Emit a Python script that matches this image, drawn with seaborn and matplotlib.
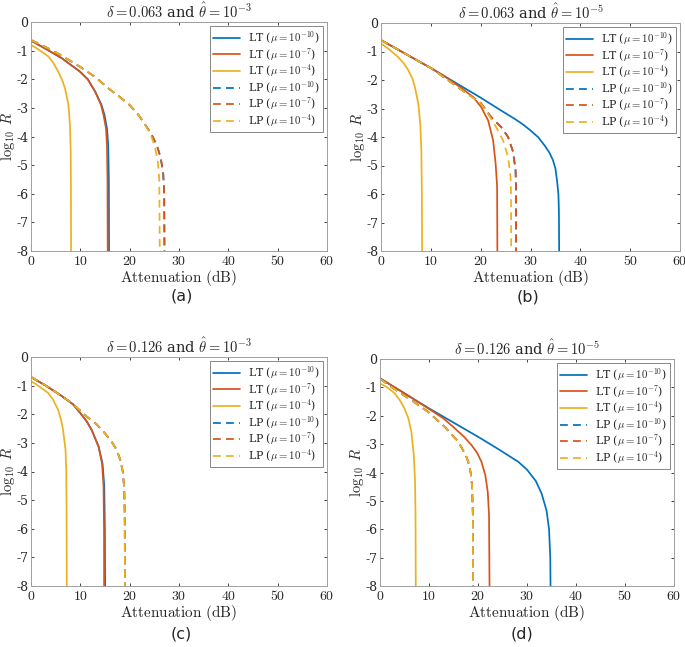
import numpy as np
import matplotlib
matplotlib.use("Agg")
import matplotlib.pyplot as plt
import seaborn as sns

# ---------------- data ----------------
# Panel (a): delta=0.063, theta=1e-3
a_lt10_x = [0, 3, 6.2, 9.9, 11.5, 13, 14.3, 14.9, 15.4, 15.65, 15.78, 15.82]
a_lt10_y = [-0.65, -0.94, -1.26, -1.73, -2.0, -2.43, -2.9, -3.25, -3.72, -4.3, -5.5, -8.0]
a_lt7_x = [0, 3, 6.2, 9.9, 11.5, 13, 14.2, 14.7, 15.2, 15.4, 15.5, 15.55]
a_lt7_y = [-0.65, -0.94, -1.26, -1.73, -2.0, -2.43, -2.9, -3.25, -3.72, -4.3, -5.5, -8.0]
a_lt4_x = [0, 1, 2, 3.5, 4.5, 5.5, 6.3, 6.9, 7.6, 7.9, 8.05, 8.1, 8.12]
a_lt4_y = [-0.8, -0.9, -1.02, -1.2, -1.42, -1.73, -2.02, -2.32, -2.9, -3.6, -4.5, -6.0, -8.0]
a_lp10_x = [0, 3, 6.2, 9.9, 13, 15.7, 18, 20, 21.8, 23.2, 24.5, 25.5, 26.3, 26.8, 27.0, 27.05]
a_lp10_y = [-0.63, -0.88, -1.17, -1.56, -1.92, -2.32, -2.62, -2.9, -3.25, -3.6, -3.95, -4.3, -4.75, -5.3, -6.0, -8.0]
a_lp7_x = a_lp10_x
a_lp7_y = a_lp10_y
a_lp4_x = [0, 3, 6.2, 9.9, 13, 15.7, 18, 20, 21.8, 23.2, 24.3, 25.1, 25.7, 26.0, 26.1]
a_lp4_y = [-0.63, -0.88, -1.17, -1.56, -1.92, -2.32, -2.62, -2.9, -3.25, -3.6, -3.95, -4.35, -4.85, -5.5, -8.0]

# Panel (b): delta=0.063, theta=1e-5
b_lt10_x = [0, 5, 10, 15, 20, 24, 26.8, 28.5, 30, 31.5, 32.8, 33.8, 34.5, 35.0, 35.3, 35.6, 35.7, 35.75]
b_lt10_y = [-0.6, -1.09, -1.58, -2.1, -2.62, -3.06, -3.36, -3.56, -3.77, -4.0, -4.29, -4.55, -4.81, -5.1, -5.5, -6.0, -6.6, -8.0]
b_lt7_x = [0, 5, 10, 13, 16.3, 18.5, 20.1, 21.5, 22.5, 23.0, 23.3, 23.35]
b_lt7_y = [-0.6, -1.09, -1.58, -1.9, -2.3, -2.6, -2.95, -3.42, -4.12, -4.93, -5.74, -8.0]
b_lt4_x = [0, 1, 2, 3.4, 4.5, 5.5, 6.3, 6.8, 7.5, 7.9, 8.1, 8.2, 8.25]
b_lt4_y = [-0.72, -0.84, -0.98, -1.19, -1.4, -1.66, -1.95, -2.25, -2.84, -3.6, -4.5, -6.0, -8.0]
b_lp10_x = [0, 5, 10, 13, 16.3, 19.9, 22.1, 24.1, 25.5, 26.5, 27.0, 27.1, 27.12]
b_lp10_y = [-0.6, -1.09, -1.58, -1.95, -2.36, -2.78, -3.3, -3.65, -4.0, -4.52, -5.16, -5.86, -8.0]
b_lp7_x = b_lp10_x
b_lp7_y = b_lp10_y
b_lp4_x = [0, 5, 10, 13, 16.3, 19.9, 21.5, 23.1, 24.5, 25.5, 26.0, 26.1, 26.12]
b_lp4_y = [-0.6, -1.09, -1.58, -1.95, -2.36, -2.8, -3.19, -3.65, -4.12, -4.7, -5.4, -6.1, -8.0]

# Panel (c): delta=0.126, theta=1e-3
c_lt10_x = [0, 3, 6.2, 8.5, 10, 11.3, 12.3, 13.7, 14.5, 14.85, 14.97, 15.02]
c_lt10_y = [-0.7, -1.0, -1.36, -1.65, -1.96, -2.25, -2.55, -3.13, -3.72, -4.5, -6.0, -8.0]
c_lt7_x = [0, 3, 6.2, 8.5, 10, 11.3, 12.3, 13.7, 14.4, 14.7, 14.8, 14.82]
c_lt7_y = [-0.7, -1.0, -1.36, -1.65, -1.96, -2.25, -2.55, -3.13, -3.72, -4.5, -6.0, -8.0]
c_lt4_x = [0, 1, 2, 3.5, 4.5, 5.5, 6.1, 6.5, 7.0, 7.15, 7.22, 7.25]
c_lt4_y = [-0.85, -0.95, -1.07, -1.26, -1.5, -1.85, -2.2, -2.55, -3.25, -4.0, -5.5, -8.0]
c_lp10_x = [0, 3, 6.2, 8.2, 11.3, 13.3, 15, 16.3, 17.4, 18.1, 18.6, 18.9, 19.0, 19.05]
c_lp10_y = [-0.7, -1.0, -1.36, -1.6, -2.08, -2.35, -2.67, -2.95, -3.25, -3.6, -4.0, -4.6, -5.5, -8.0]
c_lp7_x = c_lp10_x
c_lp7_y = c_lp10_y
c_lp4_x = c_lp10_x
c_lp4_y = c_lp10_y

# Panel (d): delta=0.126, theta=1e-5
d_lt10_x = [0, 5, 10, 15, 20, 24, 28.2, 30, 31.8, 33, 34, 34.5, 34.75, 34.8]
d_lt10_y = [-0.68, -1.21, -1.74, -2.24, -2.74, -3.16, -3.62, -3.9, -4.3, -4.75, -5.35, -6.0, -7.0, -8.0]
d_lt7_x = [0, 5, 10, 13, 15.3, 17.2, 18.7, 19.8, 20.7, 21.5, 22.0, 22.25, 22.35]
d_lt7_y = [-0.68, -1.21, -1.76, -2.1, -2.45, -2.75, -3.04, -3.3, -3.62, -4.1, -4.7, -5.5, -8.0]
d_lt4_x = [0, 1, 2, 3, 4, 5, 5.8, 6.4, 6.9, 7.15, 7.25, 7.3]
d_lt4_y = [-0.86, -0.95, -1.07, -1.21, -1.44, -1.74, -2.1, -2.56, -3.39, -4.3, -5.5, -8.0]
d_lp10_x = [0, 3.7, 6.4, 9.8, 13.2, 16, 17.5, 18.0, 18.5, 18.8, 18.95, 19.0]
d_lp10_y = [-0.7, -1.15, -1.45, -1.86, -2.39, -2.92, -3.39, -3.62, -4.0, -4.5, -5.5, -8.0]
d_lp7_x = d_lp10_x
d_lp7_y = d_lp10_y
d_lp4_x = d_lp10_x
d_lp4_y = d_lp10_y

titles = [r"$\delta = 0.063$ and $\hat{\theta} = 10^{-3}$",
          r"$\delta = 0.063$ and $\hat{\theta} = 10^{-5}$",
          r"$\delta = 0.126$ and $\hat{\theta} = 10^{-3}$",
          r"$\delta = 0.126$ and $\hat{\theta} = 10^{-5}$"]
panel_tags = ["(a)", "(b)", "(c)", "(d)"]
series_labels = [r"LT ($\mu = 10^{-10}$)", r"LT ($\mu = 10^{-7}$)", r"LT ($\mu = 10^{-4}$)",
                 r"LP ($\mu = 10^{-10}$)", r"LP ($\mu = 10^{-7}$)", r"LP ($\mu = 10^{-4}$)"]
x_ticks = [0, 10, 20, 30, 40, 50, 60]
y_ticks = [0, -1, -2, -3, -4, -5, -6, -7, -8]

panels = [
    [(a_lt10_x, a_lt10_y), (a_lt7_x, a_lt7_y), (a_lt4_x, a_lt4_y), (a_lp10_x, a_lp10_y), (a_lp7_x, a_lp7_y), (a_lp4_x, a_lp4_y)],
    [(b_lt10_x, b_lt10_y), (b_lt7_x, b_lt7_y), (b_lt4_x, b_lt4_y), (b_lp10_x, b_lp10_y), (b_lp7_x, b_lp7_y), (b_lp4_x, b_lp4_y)],
    [(c_lt10_x, c_lt10_y), (c_lt7_x, c_lt7_y), (c_lt4_x, c_lt4_y), (c_lp10_x, c_lp10_y), (c_lp7_x, c_lp7_y), (c_lp4_x, c_lp4_y)],
    [(d_lt10_x, d_lt10_y), (d_lt7_x, d_lt7_y), (d_lt4_x, d_lt4_y), (d_lp10_x, d_lp10_y), (d_lp7_x, d_lp7_y), (d_lp4_x, d_lp4_y)],
]

# ---------------- styling ----------------
sns.set_theme(style="white")
plt.rcParams["font.family"] = ["DejaVu Serif"]
plt.rcParams["mathtext.fontset"] = "cm"
plt.rcParams["axes.unicode_minus"] = False

colors = ["#0072BD", "#D95319", "#EDB120"] * 2
styles = ["-", "-", "-", "--", "--", "--"]

W, H = 685, 647
fig = plt.figure(figsize=(6.85, 6.47), dpi=100)
fig.patch.set_facecolor("white")

rects = [(31, 22, 327, 251), (381, 23, 680, 251), (31, 357, 327, 586), (380, 359, 674, 586)]
tag_pos = [(182, 296), (528, 297), (181, 634), (522, 634)]

for k in range(4):
    l, t, r, b = rects[k]
    ax = fig.add_axes([l / W, 1 - b / H, (r - l) / W, (b - t) / H])
    ax.set_facecolor("white")
    for i, (xs, ys) in enumerate(panels[k]):
        ls = (0, (4.5, 3)) if styles[i] == "--" else "-"
        sns.lineplot(x=xs, y=ys, sort=False, estimator=None, ax=ax, color=colors[i],
                     linestyle=ls, linewidth=1.25, label=series_labels[i])
    ax.set_xlim(0, 60)
    ax.set_ylim(-8, 0)
    ax.set_xticks(x_ticks)
    ax.set_yticks(y_ticks)
    ax.set_xticklabels([r"$%d$" % v for v in x_ticks], fontsize=10)
    ax.set_yticklabels([("-%d" % -v) if v < 0 else "0" for v in y_ticks], fontsize=9)
    for lab in ax.get_yticklabels():
        lab.set_fontfamily(["DejaVu Serif"])
    ax.tick_params(direction="in", length=2.5, width=0.6, colors="#262626",
                   top=True, right=True, bottom=True, left=True, pad=2.5)
    ax.tick_params(axis="y", pad=2)
    for s in ax.spines.values():
        s.set_color("#a0a0a0")
        s.set_linewidth(0.7)
    ax.set_xlabel(r"$\mathrm{Attenuation\ (dB)}$", fontsize=11, labelpad=0)
    ax.set_ylabel(r"$\log_{10}\ R$", fontsize=10.5, labelpad=-1)
    ax.set_title(titles[k], fontsize=10.5, pad=3)
    leg = ax.legend(loc="upper right", fontsize=7.8, frameon=True, fancybox=False,
                    borderaxespad=0.4, handlelength=2.5, labelspacing=0.0,
                    borderpad=0.3, handletextpad=0.7)
    leg.get_frame().set_edgecolor("#6a6a6a")
    leg.get_frame().set_linewidth(0.7)
    tx, ty = tag_pos[k]
    fig.text(tx / W, 1 - ty / H, panel_tags[k], ha="center", va="center",
             fontsize=11.5, family=["DejaVu Sans"])

fig.savefig("out.png", dpi=100, facecolor="white")
